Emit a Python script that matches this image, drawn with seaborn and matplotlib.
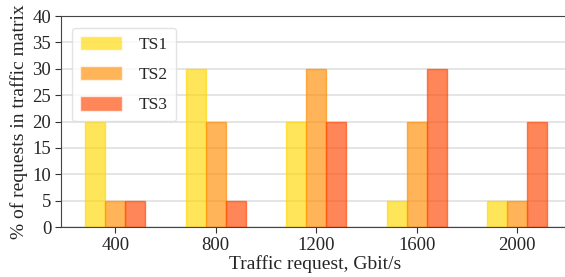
import pandas as pd
import matplotlib.pyplot as plt
import seaborn as sns

requests = ['400', '800', '1200', '1600', '2000']
ts1 = [20, 30, 20, 5, 5]
ts2 = [5, 20, 30, 20, 5]
ts3 = [5, 5, 20, 30, 20]
series = ['TS1', 'TS2', 'TS3']
colors = ['gold', 'darkorange', 'orangered']

df = pd.DataFrame({'request': requests * 3,
                   'value': ts1 + ts2 + ts3,
                   'series': [s for s in series for _ in requests]})

sns.set_style('white')
plt.rcParams['font.family'] = ['Liberation Serif', 'DejaVu Serif']

fig = plt.figure(figsize=(5.65, 2.77), dpi=100)
ax = fig.add_axes([0.108, 0.18, 0.9, 0.762])
ax.set_axisbelow(True)
ax.yaxis.grid(True, color='#e3e3e3', linewidth=1.3)

sns.barplot(data=df, x='request', y='value', hue='series', order=requests,
            hue_order=series, palette=colors, saturation=1, width=0.6,
            alpha=0.65, linewidth=1, ax=ax)
for bar, c in zip(ax.patches, [c for c in colors for _ in requests]):
    bar.set_edgecolor(c)

ax.set_ylim(0, 40)
ax.set_yticks(range(0, 41, 5))
ax.set_xlim(-0.54, 4.52)
ax.set_xlabel('Traffic request, Gbit/s', fontsize=14, labelpad=1)
ax.set_ylabel('% of requests in traffic matrix', fontsize=14, labelpad=3)
ax.tick_params(axis='both', labelsize=13.5, length=4, color='#333333', direction='out',
               bottom=True, left=True, pad=3)
for s in ['left', 'bottom', 'top']:
    ax.spines[s].set_color('#444444')
ax.spines['right'].set_visible(False)

leg = ax.legend(loc='upper left', fontsize=12.5, handlelength=2.4, handleheight=0.9,
                labelspacing=0.75, borderpad=0.45, handletextpad=1.0,
                bbox_to_anchor=(0.005, 0.985))
leg.get_frame().set_edgecolor('#dddddd')

fig.savefig('out.png', dpi=100)
